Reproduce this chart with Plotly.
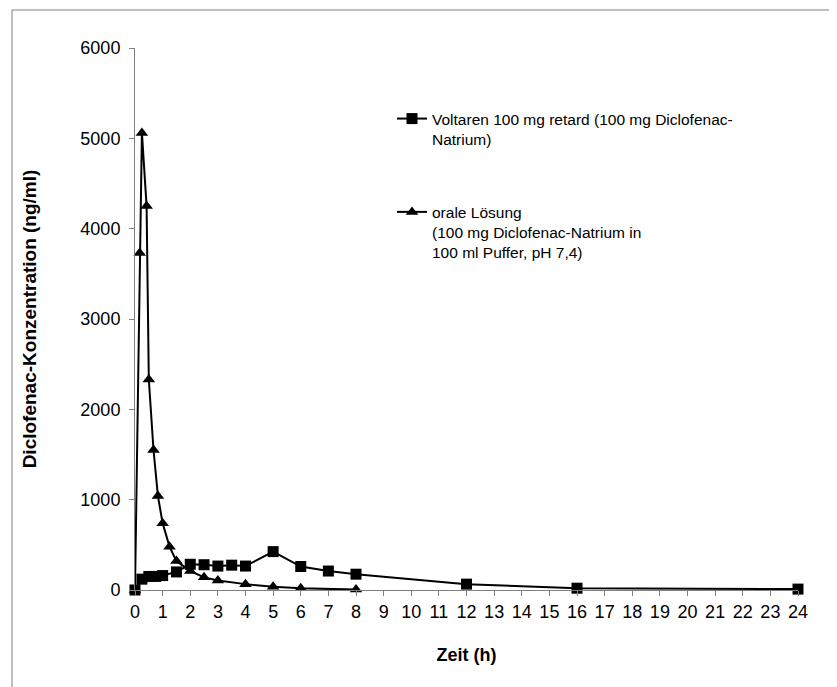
import plotly.graph_objects as go

# Voltaren 100 mg retard
t_retard = [0, 0.25, 0.5, 0.75, 1, 1.5, 2, 2.5, 3, 3.5, 4, 5, 6, 7, 8, 12, 16, 24]
c_retard = [0, 120, 150, 150, 160, 200, 285, 280, 265, 275, 265, 425, 260, 210, 175, 65, 20, 10]

# orale Lösung
t_loesung = [0, 0.17, 0.25, 0.42, 0.5, 0.67, 0.83, 1, 1.25, 1.5, 2, 2.5, 3, 4, 5, 6, 8]
c_loesung = [0, 3730, 5060, 4250, 2330, 1550, 1040, 740, 480, 320, 210, 140, 105, 65, 35, 18, 5]

name_retard = "Voltaren 100 mg retard (100 mg Diclofenac-<br>Natrium)"
name_loesung = "orale Lösung<br>(100 mg Diclofenac-Natrium in<br>100 ml Puffer, pH 7,4)"

x_ticks = list(range(0, 25))
y_ticks = [0, 1000, 2000, 3000, 4000, 5000, 6000]

FONT = "Liberation Sans, Arial, sans-serif"

fig = go.Figure()
fig.add_trace(go.Scatter(
    x=t_retard, y=c_retard, mode="lines+markers", name=name_retard,
    legendgroup="a",
    line=dict(color="black", width=2),
    marker=dict(symbol="square", size=11, color="black"),
    cliponaxis=False,
))
fig.add_trace(go.Scatter(
    x=t_loesung, y=c_loesung, mode="lines+markers", name=name_loesung,
    legendgroup="b",
    line=dict(color="black", width=2),
    marker=dict(symbol="triangle-up", size=11, color="black"),
    cliponaxis=False,
))

# page offset of the browser (body margin)
OFF = 8
L, R = 135 - OFF, 798 - OFF
T, B = 48 - OFF, 590 - OFF
W, H = 837, 687

def px_to_paper_x(px):
    return (px - OFF - L) / (R - L)

def px_to_paper_y(py):
    return (B - (py - OFF)) / (B - T)

fig.update_layout(
    width=W, height=H,
    margin=dict(l=L, r=W - R, t=T, b=H - B, pad=0),
    paper_bgcolor="white", plot_bgcolor="white",
    font=dict(family=FONT, size=18, color="black"),
    showlegend=True,
    legend=dict(
        x=px_to_paper_x(392), y=px_to_paper_y(102), xanchor="left", yanchor="top",
        bgcolor="rgba(0,0,0,0)", font=dict(size=15.5, family=FONT),
        tracegroupgap=50, valign="top", itemwidth=30,
    ),
    xaxis=dict(
        range=[0, 24], tickmode="array", tickvals=x_ticks,
        ticktext=[str(v) for v in x_ticks],
        showgrid=False, zeroline=False,
        showline=True, linecolor="#808080", linewidth=1,
        ticks="outside", ticklen=5, tickcolor="#808080",
        tickfont=dict(size=18),
        title=dict(text="<b>Zeit (h)</b>", font=dict(size=18), standoff=27),
    ),
    yaxis=dict(
        range=[0, 6000], tickmode="array", tickvals=y_ticks,
        ticktext=[str(v) for v in y_ticks],
        showgrid=False, zeroline=False,
        showline=True, linecolor="#808080", linewidth=1,
        ticks="outside", ticklen=5, tickcolor="#808080",
        tickfont=dict(size=18), ticklabelstandoff=5,
        title=dict(text="<b>Diclofenac-Konzentration (ng/ml)</b>", font=dict(size=19), standoff=38),
    ),
)

# outer frame of the picture
fig.add_shape(type="rect", xref="paper", yref="paper",
              x0=px_to_paper_x(12), x1=px_to_paper_x(900),
              y0=px_to_paper_y(750), y1=px_to_paper_y(10),
              line=dict(color="#808080", width=1), fillcolor="rgba(0,0,0,0)", layer="below")

fig.write_html("out.html")
